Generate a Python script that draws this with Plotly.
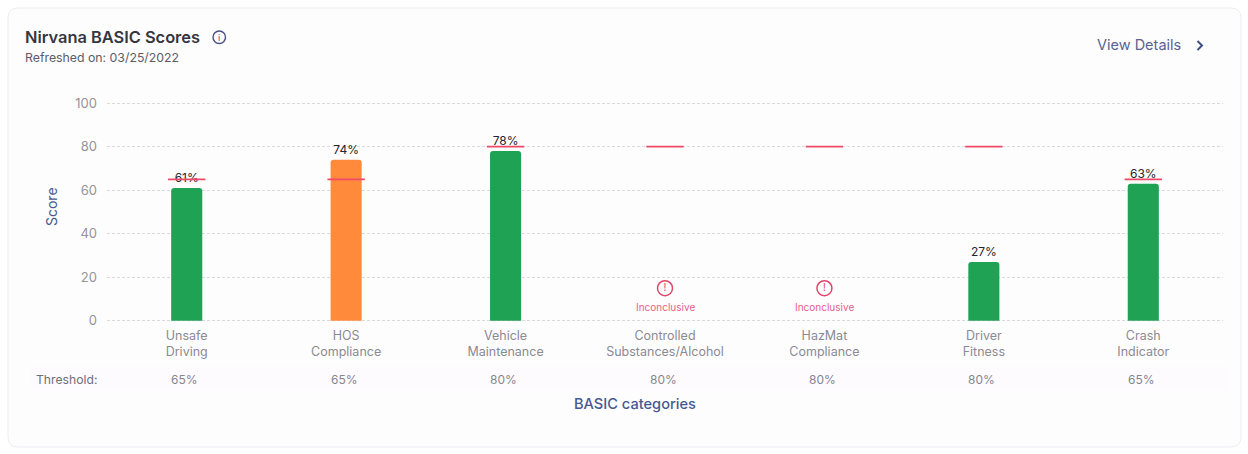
import plotly.graph_objects as go

categories = ["Unsafe<br>Driving", "HOS<br>Compliance", "Vehicle<br>Maintenance",
              "Controlled<br>Substances/Alcohol", "HazMat<br>Compliance",
              "Driver<br>Fitness", "Crash<br>Indicator"]
scores = [61, 74, 78, None, None, 27, 63]
thresholds = [65, 65, 80, 80, 80, 80, 65]
bar_colors = ["#1fa254", "#ff8a3c", "#1fa254", "#1fa254", "#1fa254", "#1fa254", "#1fa254"]
inconclusive = [None, None, None, 15, 15, None, None]
inconclusive_labels = ["", "", "", "Inconclusive", "Inconclusive", "", ""]
yticks = [0, 20, 40, 60, 80, 100]

W, H = 1248, 454
L, R, T, B = 107, 25, 101, 131
FONT = "Inter, Roboto, sans-serif"
xs = list(range(len(categories)))


# page pixels to paper coordinates (paper is the plot area)
def px(x):
    return (x - L) / (W - L - R)


def py(y):
    return (H - B - y) / (H - T - B)


fig = go.Figure()
fig.add_trace(go.Bar(x=xs, y=scores, width=0.195, marker=dict(color=bar_colors, line_width=0, cornerradius=3)))
# invisible marker only pushes the value label up off the bar
fig.add_trace(go.Scatter(x=xs, y=scores, mode="markers+text", text=[f"{s}%" if s is not None else "" for s in scores],
                         textposition="top center", marker=dict(size=2.5, opacity=0),
                         textfont=dict(family=FONT, size=12, color="#25252b")))
fig.add_trace(go.Scatter(x=xs, y=thresholds, mode="markers",
                         marker=dict(symbol="line-ew", size=26.7, line=dict(color="#ee4a68", width=1.8))))
fig.add_trace(go.Scatter(x=xs, y=inconclusive, mode="markers+text", text=["!" if v else "" for v in inconclusive],
                         textposition="middle center", textfont=dict(family=FONT, size=10, color="#e0466a"),
                         marker=dict(symbol="circle-open", size=15, color="#e0466a", line=dict(color="#e0466a", width=1.5))))

annotations = [
    dict(text="Nirvana BASIC Scores", x=px(23), y=py(37), font=dict(size=16.4, color="#363640", weight=600)),
    dict(text="Refreshed on: 03/25/2022", x=px(23), y=py(57.5), font=dict(size=12.3, color="#5c5c66")),
    dict(text="i", x=px(219), y=py(37), xanchor="center", font=dict(size=9, color="#4a4f82")),
    dict(text="View Details", x=px(1095), y=py(45), font=dict(size=14.5, color="#5a6390")),
    dict(text="Threshold:", x=px(34), y=py(379), font=dict(size=12.2, color="#6f6f78")),
    dict(text="Score", x=px(51), y=py(207), xanchor="center", textangle=-90, font=dict(size=14, color="#4a5a8c")),
    dict(text="BASIC categories", x=px(635), y=py(404), xanchor="center",
         font=dict(size=14.6, color="#46598f", weight=500)),
]
for a in annotations:
    a.update(xref="paper", yref="paper", showarrow=False, yanchor="middle", xanchor=a.get("xanchor", "left"))
    a["font"]["family"] = FONT

# threshold row sits under the tick labels
for x, t in zip(xs, thresholds):
    annotations.append(dict(x=x, y=py(379), xref="x", yref="paper", yanchor="middle", text=f"{t}%", showarrow=False,
                            xshift=-2, font=dict(family=FONT, size=12, color="#85858e")))
for x, label in zip(xs, inconclusive_labels):
    if label:
        annotations.append(dict(x=x, y=py(307), xref="x", yref="paper", yanchor="middle", text=label, showarrow=False,
                                font=dict(family=FONT, size=10, color="#e8608a")))

shapes = [
    dict(type="path", xref="paper", yref="paper", layer="below",
         path=f"M {px(18)} {py(8)} L {px(1231)} {py(8)} Q {px(1241)} {py(8)} {px(1241)} {py(18)} "
              f"L {px(1241)} {py(437)} Q {px(1241)} {py(447)} {px(1231)} {py(447)} "
              f"L {px(18)} {py(447)} Q {px(8)} {py(447)} {px(8)} {py(437)} "
              f"L {px(8)} {py(18)} Q {px(8)} {py(8)} {px(18)} {py(8)} Z",
         fillcolor="#fefdfe", line=dict(color="#ecedf3", width=1)),
    dict(type="rect", xref="paper", yref="paper", layer="below", x0=px(30), x1=px(1228), y0=py(366), y1=py(390),
         fillcolor="#fdfbfe", line_width=0),
    dict(type="circle", xref="paper", yref="paper", x0=px(213), x1=px(225.5), y0=py(31), y1=py(43.5),
         line=dict(color="#4a4f82", width=1.4)),
    dict(type="path", xref="paper", yref="paper", path=f"M {px(1197.5)} {py(41)} L {px(1202)} {py(45.5)} L {px(1197.5)} {py(50)}",
         line=dict(color="#3f4d85", width=2)),
]

fig.update_layout(
    width=W, height=H,
    margin=dict(l=L, r=R, t=T, b=B, autoexpand=False),
    paper_bgcolor="white",
    plot_bgcolor="rgba(0,0,0,0)",
    showlegend=False,
    font=dict(family=FONT),
    annotations=annotations,
    shapes=shapes,
    xaxis=dict(range=[-0.5, 6.5], tickmode="array", tickvals=xs, ticktext=categories, showgrid=False,
               zeroline=False, ticks="", tickfont=dict(size=12.5, color="#8a8a93"), ticklabelstandoff=3),
    # range runs a bit past 0 and 100, plotly drops gridlines sitting on the plot edge
    yaxis=dict(range=[-1, 101], tickmode="array", tickvals=yticks, showgrid=True, griddash="3px,2px",
               gridcolor="#d9d9df", gridwidth=1, zeroline=False, ticks="", ticklen=0, ticklabelstandoff=9,
               tickfont=dict(size=13, color="#94949c"), automargin=False),
)

fig.write_html("out.html", config=dict(displayModeBar=False), post_script="document.body.style.margin='0';")
